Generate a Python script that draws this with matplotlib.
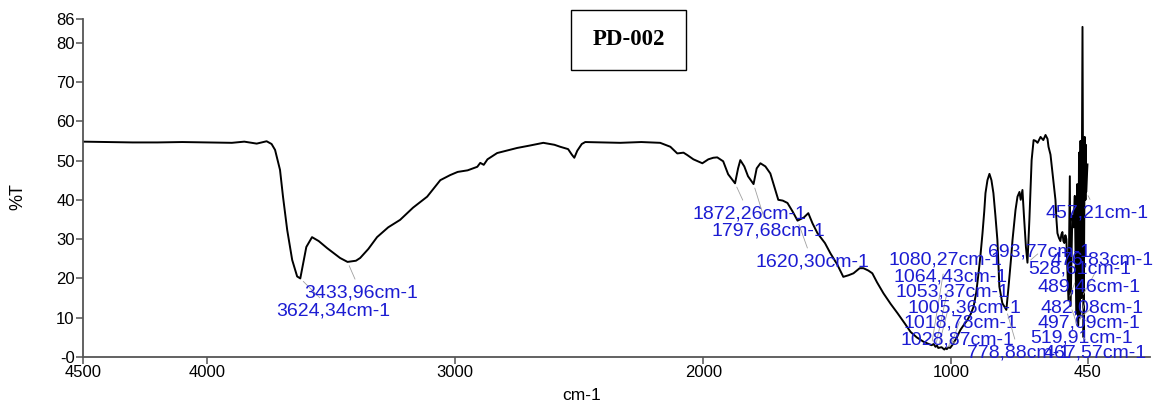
import numpy as np
import matplotlib.pyplot as plt
from matplotlib.patches import Rectangle

# FTIR spectrum of sample PD-002 (wavenumber in cm-1, transmittance in %)
wavenumber = [
    4500, 4400, 4300, 4200, 4100, 3990, 3900, 3850, 3800, 3760, 3740, 3726,
    3706, 3694, 3677, 3657, 3637, 3624.34, 3612, 3600, 3577, 3550, 3516, 3464,
    3433.96, 3400, 3383, 3350, 3315, 3270, 3222, 3170, 3113, 3060, 3020, 2990,
    2950, 2911, 2899, 2885, 2870, 2831, 2750, 2700, 2645, 2600, 2577, 2545,
    2530, 2520, 2508, 2490, 2476, 2400, 2335, 2250, 2174, 2133, 2105, 2080,
    2065, 2040, 2004, 1980, 1960, 1944, 1920, 1900, 1872.26, 1860, 1851, 1835,
    1820, 1797.68, 1785, 1770, 1750, 1730, 1710, 1698, 1680, 1661, 1640,
    1620.30, 1595, 1577, 1560, 1540, 1510, 1488, 1460, 1436, 1415, 1395, 1370,
    1355, 1335, 1319, 1300, 1274, 1245, 1218, 1190, 1165, 1140, 1113, 1095,
    1080.27, 1072, 1064.43, 1058, 1053.37, 1040, 1028.87, 1023, 1018.78, 1012,
    1005.36, 995, 980, 964, 950, 936, 922, 911, 900, 891, 883, 875, 868, 863,
    855, 847, 839, 831, 823, 815, 807, 795, 778.88, 770, 760, 754, 742, 734,
    726, 721, 714, 708, 700, 693.77, 686, 677, 669, 661, 653, 641, 630, 621,
    613, 609, 601, 593, 585, 581, 577, 573, 567, 561, 557, 553, 549, 545, 541,
    537, 528.61, 523, 519.91, 513, 508, 503, 497.09, 493, 489.46, 486, 482.08,
    480, 476.83, 472, 467.57, 463, 460, 458.5, 457.21, 452,
]
transmittance = [
    54.8, 54.7, 54.6, 54.6, 54.7, 54.6, 54.5, 54.8, 54.3, 54.9, 54.2, 52.7,
    47.6, 40.8, 32.3, 24.7, 20.5, 20.0, 24.0, 28.0, 30.5, 29.5, 27.7, 25.2,
    24.2, 24.5, 25.2, 27.5, 30.5, 33.0, 34.9, 38.0, 40.8, 45.0, 46.3, 47.1,
    47.5, 48.4, 49.4, 48.9, 50.3, 51.9, 53.2, 53.8, 54.5, 54.0, 53.5, 52.9,
    51.5, 50.7, 52.5, 54.2, 54.7, 54.6, 54.5, 54.7, 54.5, 53.5, 51.8, 52.0,
    51.4, 50.3, 49.3, 50.3, 50.7, 50.8, 49.8, 46.5, 44.2, 48.0, 50.1, 48.5,
    46.0, 44.0, 48.0, 49.3, 48.5, 46.7, 42.5, 40.0, 39.8, 39.2, 37.0,
    34.7, 35.5, 36.6, 34.0, 31.5, 29.0, 26.4, 23.5, 20.4, 20.8, 21.3, 22.6,
    22.6, 22.0, 21.3, 19.0, 16.2, 13.5, 11.2, 8.7, 6.4, 5.0, 3.9, 3.4,
    3.0, 3.3, 2.6, 2.9, 2.3, 2.5, 1.9, 2.3, 2.0, 2.5,
    2.3, 3.2, 4.8, 6.9, 8.2, 9.4, 11.0, 12.8, 16.5, 21.3, 26.0, 31.5, 37.0, 41.7,
    45.0, 46.6, 45.0, 41.7, 36.0, 29.8, 17.9, 13.7, 12.0, 17.9, 25.0, 29.8, 37.4, 40.8,
    42.0, 40.0, 42.5, 36.0, 28.0, 24.0, 35.0, 50.1, 55.2, 55.0, 54.5, 56.0, 55.2, 56.5,
    55.5, 53.5, 51.5, 46.8, 42.0, 40.0, 35.0, 31.5, 30.3, 29.5, 31.2, 31.8, 29.5, 29.0, 31.0,
    30.0, 14.5, 46.0, 13.0, 36.0, 33.0, 41.0, 11.0, 44.0, 8.0, 52.0, 10.0,
    55.0, 15.0, 84.0, 5.0, 56.0, 40.0, 54.0, 42.0, 49.0,
]

# picked peaks and where their labels sit (wavenumber, %T)
peaks = [3624.34, 3433.96, 1872.26, 1797.68, 1620.30, 1080.27, 1064.43,
         1053.37, 1005.36, 1018.78, 1028.87, 778.88, 693.77, 476.83, 528.61,
         489.46, 482.08, 497.09, 519.91, 467.57, 457.21]
label_xy = [(3722, 11.7), (3609, 16.3), (2045, 36.4), (1968, 32.1),
            (1790, 24.2), (1254, 24.7), (1234, 20.4), (1226, 16.5),
            (1178, 12.5), (1194, 8.7), (1206, 4.3), (936, 1.0), (851, 26.7),
            (601, 24.7), (690, 22.4), (653, 17.8), (641, 12.5), (653, 8.7),
            (682, 4.8), (629, 1.0), (621, 36.6)]

y_ticks = [0, 10, 20, 30, 40, 50, 60, 70, 80, 86]
y_tick_labels = ['-0', '10', '20', '30', '40', '50', '60', '70', '80', '86']
x_ticks = [4500, 4000, 3000, 2000, 1000, 450]

plt.rcParams['font.family'] = ['Liberation Sans', 'DejaVu Sans']

fig = plt.figure(figsize=(11.56, 4.04), dpi=100)
ax = fig.add_axes([0.0718, 0.1163, 0.923, 0.8366])

ax.plot(wavenumber, transmittance, color='black', lw=1.4)

wn_sorted = np.array(wavenumber)[::-1]
t_sorted = np.array(transmittance)[::-1]
blue = '#1c1cd2'
for p, (lx, ly) in zip(peaks, label_xy):
    py = np.interp(p, wn_sorted, t_sorted)
    label = f"{p:.2f}".replace('.', ',') + "cm-1"
    ax.annotate(label, xy=(p, py), xytext=(lx, ly), ha='left', va='center',
                fontsize=14, color=blue, annotation_clip=False,
                arrowprops=dict(arrowstyle='-', color='#a0a0a0', lw=0.6,
                                shrinkA=2, shrinkB=3))

ax.set_xlim(4500, 200)
ax.set_ylim(0, 86)
ax.set_xticks(x_ticks)
ax.set_xticklabels([str(t) for t in x_ticks])
ax.set_yticks(y_ticks)
ax.set_yticklabels(y_tick_labels)
ax.tick_params(axis='both', direction='out', length=5, width=1.1,
               color='#555555', labelsize=12, pad=1)

for side in ['top', 'right']:
    ax.spines[side].set_visible(False)
for side in ['left', 'bottom']:
    ax.spines[side].set_color('#555555')
    ax.spines[side].set_linewidth(1.3)

ax.set_xlabel('cm-1', fontsize=12.5, va='center')
ax.xaxis.set_label_coords(0.467, -0.115)
ax.set_ylabel('%T', fontsize=13, va='center')
ax.yaxis.set_label_coords(-0.061, 0.476)

# sample name in a framed box above the spectrum
fig.patches.append(Rectangle((0.494, 0.8267), 0.0995, 0.1485, fill=False,
                             lw=1.0, edgecolor='black',
                             transform=fig.transFigure, figure=fig))
fig.text(0.5437, 0.901, 'PD-002', ha='center', va='center', fontsize=16.5,
         fontweight='bold', family=['Liberation Serif', 'DejaVu Serif'])

fig.savefig('out.png', dpi=100)
